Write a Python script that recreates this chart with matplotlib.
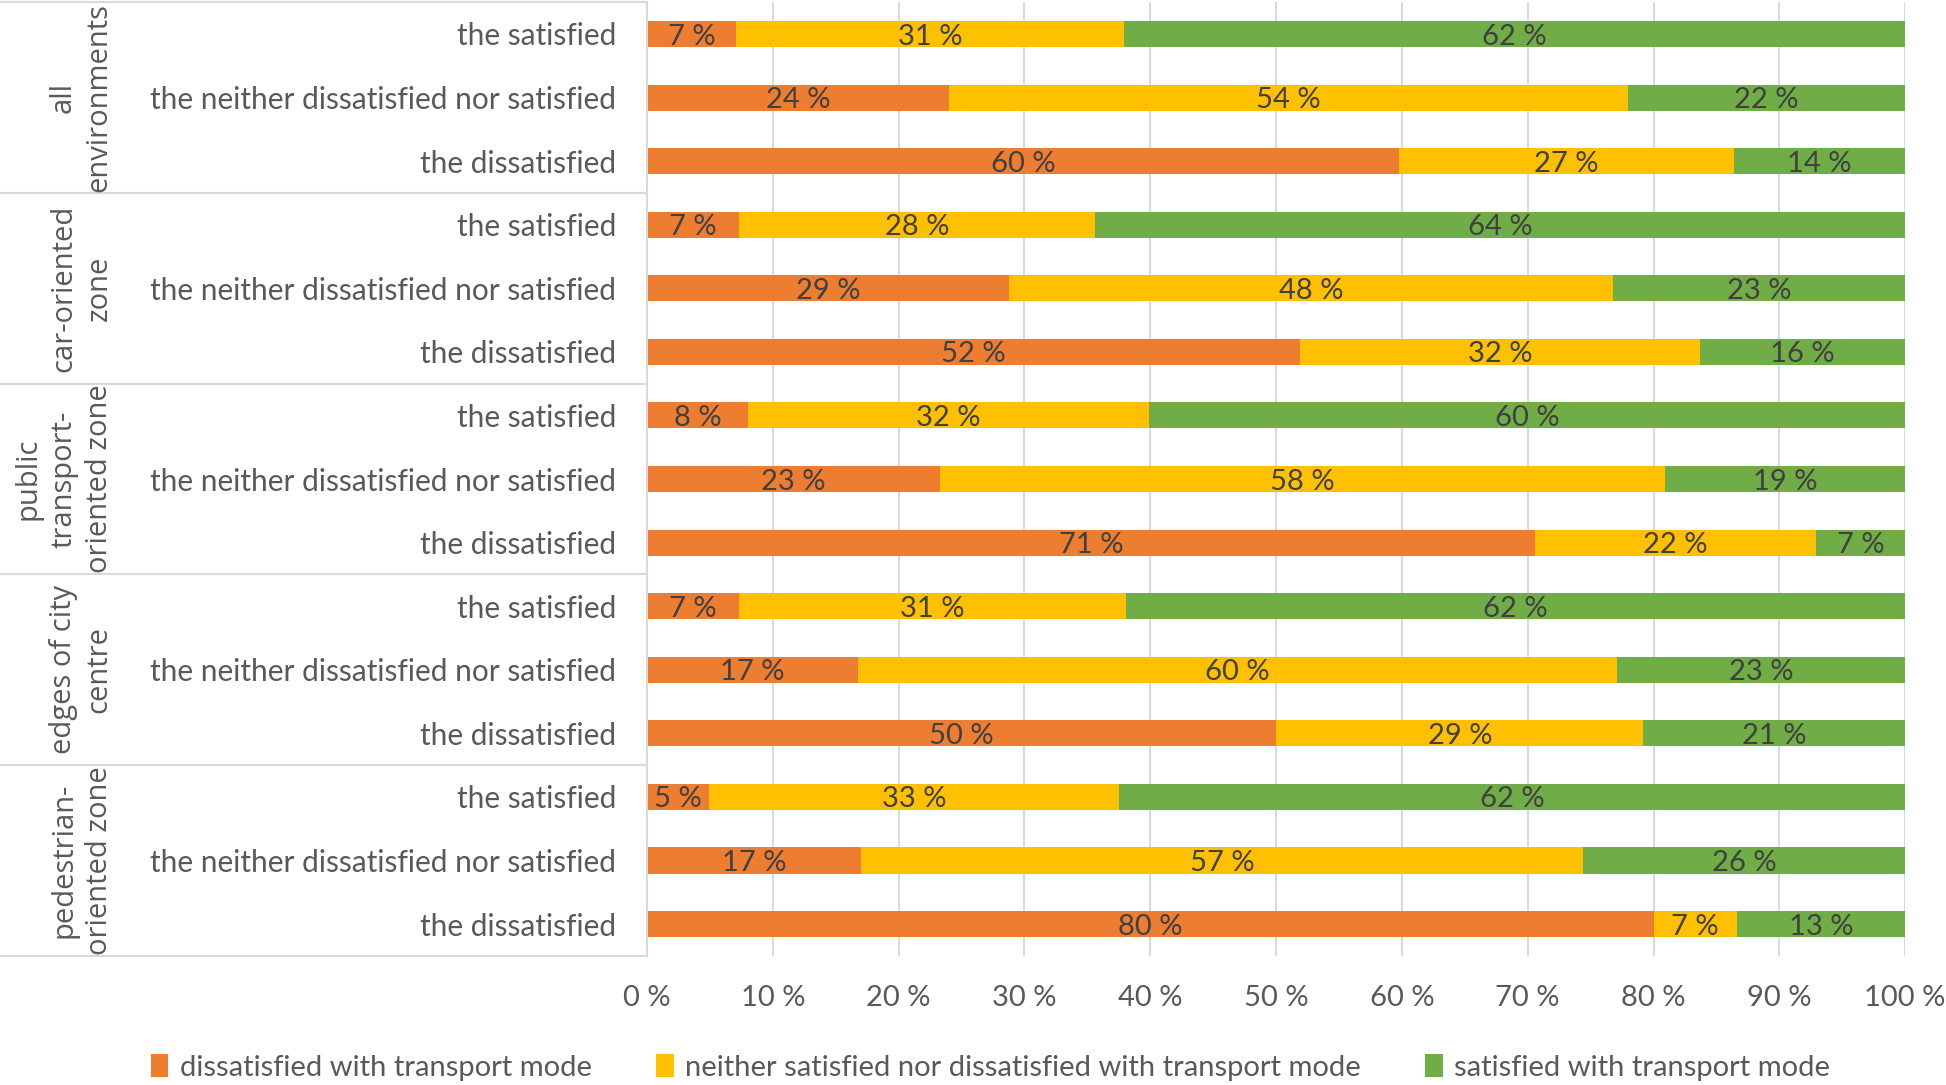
import numpy as np
import matplotlib
matplotlib.use("Agg")
import matplotlib.pyplot as plt

groups = ["all\nenvironments", "car-oriented\nzone", "public\ntransport-\noriented zone",
          "edges of city\ncentre", "pedestrian-\noriented zone"]
rows = ["the satisfied", "the neither dissatisfied nor satisfied", "the dissatisfied"]

# share (%) per row, top to bottom, groups in order above
dissatisfied = [7.1, 24.0, 59.8,  7.3, 28.8, 51.9,  8.0, 23.3, 70.6,  7.3, 16.8, 50.0,  4.9, 17.0, 80.0]
neither      = [30.8, 54.0, 26.6, 28.3, 48.0, 31.8, 31.9, 57.6, 22.3, 30.8, 60.3, 29.2, 32.6, 57.4, 6.6]
satisfied    = [62.1, 22.0, 13.6, 64.4, 23.2, 16.3, 60.1, 19.1, 7.2,  61.9, 22.9, 20.8, 62.5, 25.6, 13.4]

series = ["dissatisfied with transport mode",
          "neither satisfied nor dissatisfied with transport mode",
          "satisfied with transport mode"]
colors = ["#ED7D31", "#FFC000", "#70AD47"]

plt.rcParams["font.family"] = ["Lato", "DejaVu Sans"]

fig = plt.figure(figsize=(19.46, 10.85), dpi=100)
ax = fig.add_axes([0.3325, 0.119, 0.6465, 0.879])

n = len(dissatisfied)
y = np.arange(n)
left = np.zeros(n)
for vals, col, name in zip([dissatisfied, neither, satisfied], colors, series):
    vals = np.array(vals)
    ax.barh(y, vals, left=left, height=0.41, color=col, label=name, zorder=3)
    for yi, l, v in zip(y, left, vals):
        ax.text(l + v / 2, yi + 0.04, "%d %%" % round(v), ha="center", va="center",
                fontsize=21, color="#404040", zorder=4)
    left += vals

ax.set_xlim(0, 100)
ax.set_ylim(n - 0.5, -0.5)
ax.set_xticks(np.arange(0, 101, 10))
ax.set_xticklabels(["%d %%" % t for t in range(0, 101, 10)])
ax.set_yticks(y)
ax.set_yticklabels(rows * len(groups))
ax.tick_params(axis="both", length=0, labelsize=21, colors="#595959")
ax.tick_params(axis="y", labelsize=21.5)
ax.tick_params(axis="x", pad=21)
ax.tick_params(axis="y", pad=22)
ax.grid(axis="x", color="#d9d9d9", linewidth=1.4, zorder=0)
for s in ax.spines.values():
    s.set_visible(False)

# table lines on the left
lc = "#d9d9d9"
ax.plot([0, 0], [-0.5, n - 0.5], color=lc, lw=1.5, clip_on=False, zorder=5)
trans = ax.get_yaxis_transform()
for b in np.arange(-0.5, n, 3):
    ax.plot([-0.514, 0], [b, b], color=lc, lw=1.5, transform=trans, clip_on=False)

for i, g in enumerate(groups):
    ax.text(-0.424, 3 * i + 1, g, transform=trans, rotation=90, ha="right", va="center",
            multialignment="center", fontsize=21, color="#595959", family="Open Sans",
            linespacing=1.3)

fig.legend(*ax.get_legend_handles_labels(), loc="center", bbox_to_anchor=(0.509, 0.016),
           ncol=3, frameon=False, fontsize=21, handlelength=0.6, handleheight=0.8,
           handletextpad=0.4, columnspacing=2.2, labelcolor="#595959")

fig.savefig("out.png", dpi=100)
